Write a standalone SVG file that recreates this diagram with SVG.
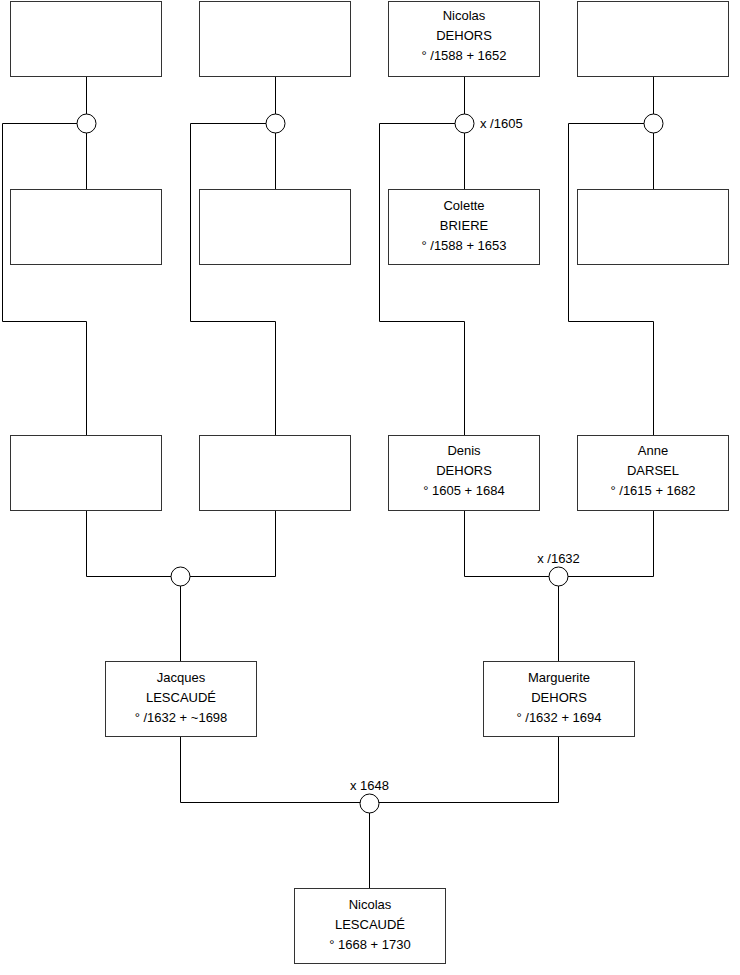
<svg xmlns="http://www.w3.org/2000/svg" width="740" height="975" viewBox="0 0 740 975">
<style>
.box{fill:#fff;stroke:#333;stroke-width:1}
.ln{fill:none;stroke:#000;stroke-width:1}
.ring{fill:#fff;stroke:#000;stroke-width:1}
text{font-family:"Liberation Sans",Arial,sans-serif;font-size:13px;fill:#000}
.c{text-anchor:middle}
</style>
<rect width="740" height="975" fill="#fff"/>
<g id="connectors">
<path class="ln" d="M86.5 76.5V189.5M275.5 76.5V189.5M464.5 76.5V189.5M653.5 76.5V189.5"/>
<path class="ln" d="M77 123.5H2.5V321.5H86.5V435.5"/>
<path class="ln" d="M266 123.5H190.5V321.5H275.5V435.5"/>
<path class="ln" d="M455 123.5H379.5V321.5H464.5V435.5"/>
<path class="ln" d="M644 123.5H568.5V321.5H653.5V435.5"/>
<path class="ln" d="M86.5 510.5V576.5H275.5V510.5M180.5 576.5V661.5"/>
<path class="ln" d="M464.5 510.5V576.5H653.5V510.5M558.5 576.5V661.5"/>
<path class="ln" d="M180.5 736.5V802.5H558.5V736.5M369.5 802.5V888.5"/>
</g>
<g id="unions">
<circle class="ring" cx="86.5" cy="123.5" r="9.5"/>
<circle class="ring" cx="275.5" cy="123.5" r="9.5"/>
<circle class="ring" cx="464.5" cy="123.5" r="9.5"/>
<text x="480" y="128">x /1605</text>
<circle class="ring" cx="653.5" cy="123.5" r="9.5"/>
<circle class="ring" cx="180.5" cy="576.5" r="9.5"/>
<circle class="ring" cx="558.5" cy="576.5" r="9.5"/>
<text class="c" x="558.5" y="563">x /1632</text>
<circle class="ring" cx="369.5" cy="803.5" r="9.5"/>
<text class="c" x="369.5" y="790">x 1648</text>
</g>
<g id="p1"><rect class="box" x="10.5" y="1.5" width="151" height="75"/></g>
<g id="p2"><rect class="box" x="199.5" y="1.5" width="151" height="75"/></g>
<g id="p3"><rect class="box" x="388.5" y="1.5" width="151" height="75"/>
<text class="c" x="464" y="19.5">Nicolas</text><text class="c" x="464" y="39.5">DEHORS</text><text class="c" x="464" y="59.5">° /1588 + 1652</text></g>
<g id="p4"><rect class="box" x="577.5" y="1.5" width="151" height="75"/></g>
<g id="p5"><rect class="box" x="10.5" y="189.5" width="151" height="75"/></g>
<g id="p6"><rect class="box" x="199.5" y="189.5" width="151" height="75"/></g>
<g id="p7"><rect class="box" x="388.5" y="189.5" width="151" height="75"/>
<text class="c" x="464" y="209.5">Colette</text><text class="c" x="464" y="229.5">BRIERE</text><text class="c" x="464" y="249.5">° /1588 + 1653</text></g>
<g id="p8"><rect class="box" x="577.5" y="189.5" width="151" height="75"/></g>
<g id="p9"><rect class="box" x="10.5" y="435.5" width="151" height="75"/></g>
<g id="p10"><rect class="box" x="199.5" y="435.5" width="151" height="75"/></g>
<g id="p11"><rect class="box" x="388.5" y="435.5" width="151" height="75"/>
<text class="c" x="464" y="454.5">Denis</text><text class="c" x="464" y="474.5">DEHORS</text><text class="c" x="464" y="494.5">° 1605 + 1684</text></g>
<g id="p12"><rect class="box" x="577.5" y="435.5" width="151" height="75"/>
<text class="c" x="653" y="454.5">Anne</text><text class="c" x="653" y="474.5">DARSEL</text><text class="c" x="653" y="494.5">° /1615 + 1682</text></g>
<g id="p13"><rect class="box" x="105.5" y="661.5" width="151" height="75"/>
<text class="c" x="181" y="681.5">Jacques</text><text class="c" x="181" y="701.5">LESCAUDÉ</text><text class="c" x="181" y="721.5">° /1632 + ~1698</text></g>
<g id="p14"><rect class="box" x="483.5" y="661.5" width="151" height="75"/>
<text class="c" x="559" y="681.5">Marguerite</text><text class="c" x="559" y="701.5">DEHORS</text><text class="c" x="559" y="721.5">° /1632 + 1694</text></g>
<g id="p15"><rect class="box" x="294.5" y="888.5" width="151" height="75"/>
<text class="c" x="370" y="908.5">Nicolas</text><text class="c" x="370" y="928.5">LESCAUDÉ</text><text class="c" x="370" y="948.5">° 1668 + 1730</text></g>
</svg>
